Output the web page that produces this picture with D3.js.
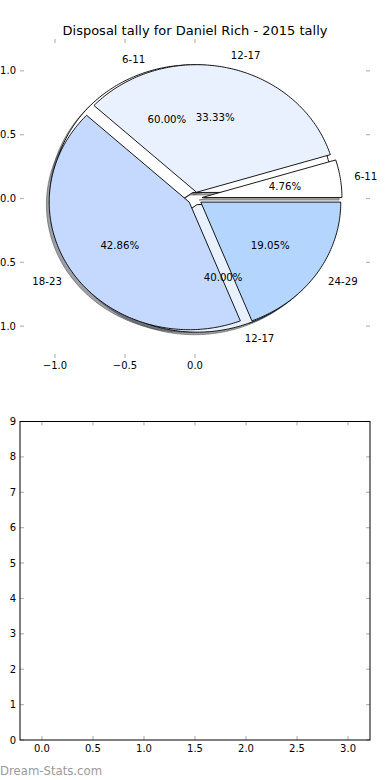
<!DOCTYPE html>
<html><head><meta charset="utf-8">
<script src="https://cdn.jsdelivr.net/npm/d3@7"></script>
<style>
body{margin:0;background:#fff}
svg{display:block}
text{font-family:"DejaVu Sans",sans-serif;fill:#000}
</style>
</head><body>
<svg id="c" width="390" height="780"></svg>
<script>
const chartTitle = "Disposal tally for Daniel Rich - 2015 tally";
const outerLabels = ["6-11", "12-17", "18-23", "24-29"];
const outerValues = [1, 7, 9, 4];
const innerLabels = ["6-11", "12-17"];
const innerValues = [3, 2];
const sliceColors = ["#ffffff", "#e9f0fe", "#c5d9fe", "#b3d5fe"];
const pieXTicks = [-1.0, -0.5, 0.0];
const pieYTicks = [1.0, 0.5, 0.0, -0.5, -1.0];
const barXTicks = [0, 0.5, 1, 1.5, 2, 2.5, 3];
const barYTicks = [0, 1, 2, 3, 4, 5, 6, 7, 8, 9];
const watermark = "Dream-Stats.com";

const svg = d3.select("#c");
const EXPLODE = 0.05;
const TICKC = "#b8b8b8";

// ---------- pie axes ----------
const px = d3.scaleLinear().domain([-1.25, 1.25]).range([20, 370]);
const py = d3.scaleLinear().domain([-1.25, 1.25]).range([358, 39]);
const line = d3.line().x(d => px(d[0])).y(d => py(d[1]));

function wedgePts(a0, a1, ox, oy) {
  const pts = [[ox, oy]];
  const n = Math.max(2, Math.ceil((a1 - a0) / (Math.PI / 180)));
  for (let i = 0; i <= n; i++) {
    const a = a0 + (a1 - a0) * i / n;
    pts.push([ox + Math.cos(a), oy + Math.sin(a)]);
  }
  pts.push([ox, oy]);
  return pts;
}

const pieGen = d3.pie().sort(null).value(d => d.v);
function build(labels, values) {
  return pieGen(labels.map((l, i) => ({l, v: values[i], c: sliceColors[i]}))).map(s => {
    const mid = (s.startAngle + s.endAngle) / 2;
    return Object.assign(s, {mid, ox: EXPLODE * Math.cos(mid), oy: EXPLODE * Math.sin(mid)});
  });
}
const inner = build(innerLabels, innerValues);
const outer = build(outerLabels, outerValues);

function shade(c) {
  const r = d3.rgb(c);
  return d3.rgb(r.r * 0.3, r.g * 0.3, r.b * 0.3).toString();
}

const gPie = svg.append("g");
// shadows
[inner, outer].forEach(arr => {
  gPie.selectAll(null).data(arr).enter().append("path")
    .attr("d", s => line(wedgePts(s.startAngle, s.endAngle, s.ox - 0.02, s.oy - 0.02)))
    .attr("fill", s => shade(s.data.c)).attr("fill-opacity", 0.5)
    .attr("stroke", s => shade(s.data.c)).attr("stroke-opacity", 0.5).attr("stroke-width", 1);
});
// wedges
[inner, outer].forEach(arr => {
  gPie.selectAll(null).data(arr).enter().append("path")
    .attr("d", s => line(wedgePts(s.startAngle, s.endAngle, s.ox, s.oy)))
    .attr("fill", s => s.data.c)
    .attr("stroke", "#000").attr("stroke-width", 0.9).attr("stroke-linejoin", "miter");
});
// labels
const total = arr => d3.sum(arr, s => s.value);
[inner, outer].forEach(arr => {
  const t = total(arr);
  arr.forEach(s => {
    const lx = s.ox + 1.1 * Math.cos(s.mid), ly = s.oy + 1.1 * Math.sin(s.mid);
    gPie.append("text").attr("x", px(lx)).attr("y", py(ly)).attr("dy", "0.35em")
      .attr("text-anchor", lx > 0 ? "start" : "end").attr("font-size", 10.2).text(s.data.l);
    const tx = s.ox + 0.6 * Math.cos(s.mid), ty = s.oy + 0.6 * Math.sin(s.mid);
    gPie.append("text").attr("x", px(tx)).attr("y", py(ty)).attr("dy", "0.35em")
      .attr("text-anchor", "middle").attr("font-size", 10.2)
      .text(d3.format(".2f")(100 * s.value / t) + "%");
  });
});

// pie ticks
const f1 = d3.format(".1f");
const gT = svg.append("g");
pieXTicks.forEach(v => {
  gT.append("line").attr("x1", px(v)).attr("x2", px(v)).attr("y1", 39).attr("y2", 43).attr("stroke", TICKC).attr("stroke-width", 1.2);
  gT.append("line").attr("x1", px(v)).attr("x2", px(v)).attr("y1", 358).attr("y2", 354).attr("stroke", TICKC).attr("stroke-width", 1.2);
  gT.append("text").attr("x", px(v)).attr("y", 369).attr("text-anchor", "middle").attr("font-size", 10).text(f1(v));
});
pieYTicks.forEach(v => {
  gT.append("line").attr("x1", 20).attr("x2", 24).attr("y1", py(v)).attr("y2", py(v)).attr("stroke", TICKC).attr("stroke-width", 1.2);
  gT.append("line").attr("x1", 370).attr("x2", 366).attr("y1", py(v)).attr("y2", py(v)).attr("stroke", TICKC).attr("stroke-width", 1.2);
  gT.append("text").attr("x", 16).attr("y", py(v)).attr("dy", "0.35em").attr("text-anchor", "end").attr("font-size", 10).text(f1(v));
});

svg.append("text").attr("x", 195).attr("y", 34.5).attr("text-anchor", "middle").attr("font-size", 13).text(chartTitle);

// ---------- bottom empty axes ----------
const bx = d3.scaleLinear().domain([-0.215, 3.215]).range([20, 370]);
const by = d3.scaleLinear().domain([0, 9]).range([740, 421.5]);
const gB = svg.append("g");
barXTicks.forEach(v => {
  gB.append("line").attr("x1", bx(v)).attr("x2", bx(v)).attr("y1", 740).attr("y2", 736).attr("stroke", TICKC).attr("stroke-width", 1.2);
  gB.append("line").attr("x1", bx(v)).attr("x2", bx(v)).attr("y1", 421.5).attr("y2", 425.5).attr("stroke", TICKC).attr("stroke-width", 1.2);
  gB.append("text").attr("x", bx(v)).attr("y", 752).attr("text-anchor", "middle").attr("font-size", 10).text(f1(v));
});
barYTicks.forEach(v => {
  gB.append("line").attr("x1", 20).attr("x2", 24).attr("y1", by(v)).attr("y2", by(v)).attr("stroke", TICKC).attr("stroke-width", 1.2);
  gB.append("line").attr("x1", 370).attr("x2", 366).attr("y1", by(v)).attr("y2", by(v)).attr("stroke", TICKC).attr("stroke-width", 1.2);
  gB.append("text").attr("x", 16).attr("y", by(v)).attr("dy", "0.35em").attr("text-anchor", "end").attr("font-size", 10).text(d3.format("d")(v));
});
gB.append("rect").attr("x", bx(-0.215)).attr("y", by(9)).attr("width", bx(3.215) - bx(-0.215)).attr("height", by(0) - by(9))
  .attr("fill", "none").attr("stroke", "#000").attr("stroke-width", 1);

svg.append("text").attr("x", 0).attr("y", 775).attr("font-size", 11.7).style("fill", "#9a9a9a").text(watermark);
</script>
</body></html>
